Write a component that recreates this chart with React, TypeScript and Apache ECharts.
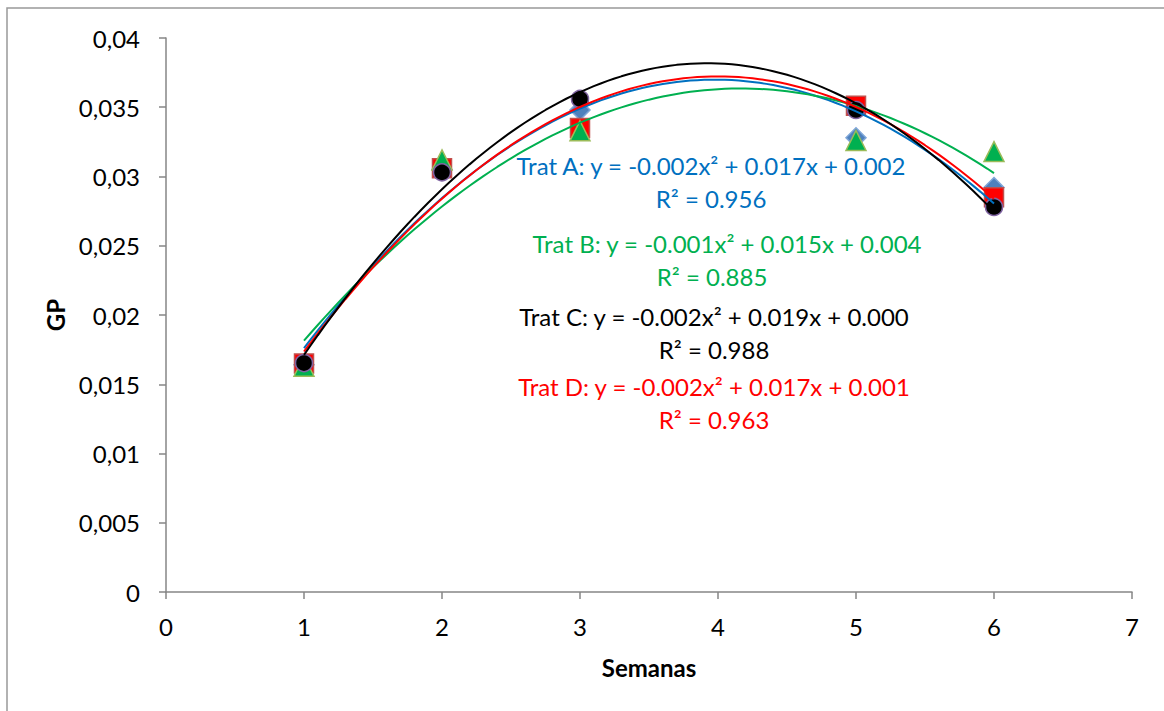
import React, { useEffect, useRef } from "react";
import * as echarts from "echarts";

const weeks = [1, 2, 3, 5, 6];
const tratA = [0.0164, 0.0305, 0.0348, 0.0328, 0.0292];
const tratB = [0.0163, 0.0312, 0.0333, 0.0326, 0.0318];
const tratC = [0.01653, 0.0303, 0.0356, 0.0348, 0.0278];
const tratD = [0.0165, 0.0306, 0.0335, 0.0351, 0.0285];

const eqA = ["Trat A: y = -0.002x² + 0.017x + 0.002", "R² = 0.956"];
const eqB = ["Trat B: y = -0.001x² + 0.015x + 0.004", "R² = 0.885"];
const eqC = ["Trat C: y = -0.002x² + 0.019x + 0.000", "R² = 0.988"];
const eqD = ["Trat D: y = -0.002x² + 0.017x + 0.001", "R² = 0.963"];

function quadFit(xs: number[], ys: number[]) {
  let s0 = xs.length, s1 = 0, s2 = 0, s3 = 0, s4 = 0, t0 = 0, t1 = 0, t2 = 0;
  for (let i = 0; i < xs.length; i++) {
    const x = xs[i], y = ys[i];
    s1 += x; s2 += x * x; s3 += x ** 3; s4 += x ** 4;
    t0 += y; t1 += x * y; t2 += x * x * y;
  }
  const M = [
    [s0, s1, s2, t0],
    [s1, s2, s3, t1],
    [s2, s3, s4, t2],
  ];
  for (let i = 0; i < 3; i++) {
    for (let j = i + 1; j < 3; j++) {
      const f = M[j][i] / M[i][i];
      for (let k = i; k < 4; k++) M[j][k] -= f * M[i][k];
    }
  }
  const sol = [0, 0, 0];
  for (let i = 2; i >= 0; i--) {
    let v = M[i][3];
    for (let k = i + 1; k < 3; k++) v -= M[i][k] * sol[k];
    sol[i] = v / M[i][i];
  }
  return { c: sol[0], b: sol[1], a: sol[2] };
}

function trend(ys: number[]) {
  const { a, b, c } = quadFit(weeks, ys);
  const pts: number[][] = [];
  const x0 = weeks[0], x1 = weeks[weeks.length - 1];
  for (let i = 0; i <= 100; i++) {
    const x = x0 + ((x1 - x0) * i) / 100;
    pts.push([x, a * x * x + b * x + c]);
  }
  return pts;
}

const FONT = "Lato";

export default function App() {
  const ref = useRef<HTMLDivElement>(null);
  useEffect(() => {
    const chart = echarts.init(ref.current!, null, { renderer: "svg" });
    const pts = (ys: number[]) => weeks.map((w, i) => [w, ys[i]]);
    const scatter = (name: string, ys: number[], symbol: string, size: any, fill: string, border: string, z: number) => ({
      name,
      type: "scatter",
      data: pts(ys),
      symbol,
      symbolSize: size,
      itemStyle: { color: fill, borderColor: border, borderWidth: 1.5, opacity: 1 },
      z,
    });
    const line = (ys: number[], color: string, z: number) => ({
      type: "line",
      data: trend(ys),
      showSymbol: false,
      symbol: "none",
      lineStyle: { color, width: 2 },
      z,
      silent: true,
    });
    const txt = (s: string, x: number, y: number, color: string) => ({
      type: "text",
      x,
      y,
      style: {
        text: s,
        fill: color,
        font: `24px ${FONT}`,
        textAlign: "center",
        textVerticalAlign: "middle",
      },
      z: 100,
    });
    chart.setOption({
      animation: false,
      backgroundColor: "#ffffff",
      grid: { left: 166, top: 38, right: 32, bottom: 119, containLabel: false },
      xAxis: {
        type: "value",
        min: 0,
        max: 7,
        interval: 1,
        name: "Semanas",
        nameLocation: "middle",
        nameGap: 63,
        nameTextStyle: { fontFamily: FONT, fontWeight: "bold", fontSize: 24, color: "#000" },
        axisLine: { lineStyle: { color: "#868686", width: 1.5 } },
        axisTick: { show: true, length: 7, lineStyle: { color: "#868686", width: 1.5 } },
        axisLabel: { margin: 22, fontFamily: FONT, fontSize: 24, color: "#000" },
        splitLine: { show: false },
      },
      yAxis: {
        type: "value",
        min: 0,
        max: 0.04,
        interval: 0.005,
        name: "GP",
        nameLocation: "middle",
        nameGap: 96,
        nameRotate: 90,
        nameTextStyle: { fontFamily: FONT, fontWeight: "bold", fontSize: 24, color: "#000" },
        axisLine: { show: true, lineStyle: { color: "#868686", width: 1.5 } },
        axisTick: { show: true, length: 7, lineStyle: { color: "#868686", width: 1.5 } },
        axisLabel: {
          margin: 26,
          fontFamily: FONT,
          fontSize: 24,
          color: "#000",
          formatter: (v: number) => String(+v.toFixed(4)).replace(".", ","),
        },
        splitLine: { show: false },
      },
      series: [
        scatter("Trat A", tratA, "diamond", 20, "#4F81BD", "#7FA6D8", 2),
        scatter("Trat D", tratD, "rect", 19, "#FF0000", "#C0504D", 3),
        scatter("Trat B", tratB, "triangle", 20, "#00B050", "#9BBB59", 4),
        scatter("Trat C", tratC, "circle", 17, "#000000", "#8064A2", 5),
        line(tratA, "#0070C0", 10),
        line(tratB, "#00B050", 10),
        line(tratC, "#000000", 11),
        line(tratD, "#FF0000", 10),
      ],
      graphic: [
        {
          type: "rect",
          shape: { x: 7, y: 8, width: 1300, height: 900 },
          style: { fill: "none", stroke: "#999999", lineWidth: 1.5 },
          silent: true,
        },
        txt(eqA[0], 711, 165, "#0070C0"),
        txt(eqA[1], 711, 198, "#0070C0"),
        txt(eqB[0], 727, 243, "#00B050"),
        txt(eqB[1], 712, 276, "#00B050"),
        txt(eqC[0], 714, 316, "#000000"),
        txt(eqC[1], 714, 349, "#000000"),
        txt(eqD[0], 714, 386, "#FF0000"),
        txt(eqD[1], 714, 419, "#FF0000"),
      ],
    });
    return () => chart.dispose();
  }, []);
  return (
    <div
      ref={ref}
      style={{ position: "fixed", left: 0, top: 0, width: 1164, height: 711, background: "#fff" }}
    />
  );
}
